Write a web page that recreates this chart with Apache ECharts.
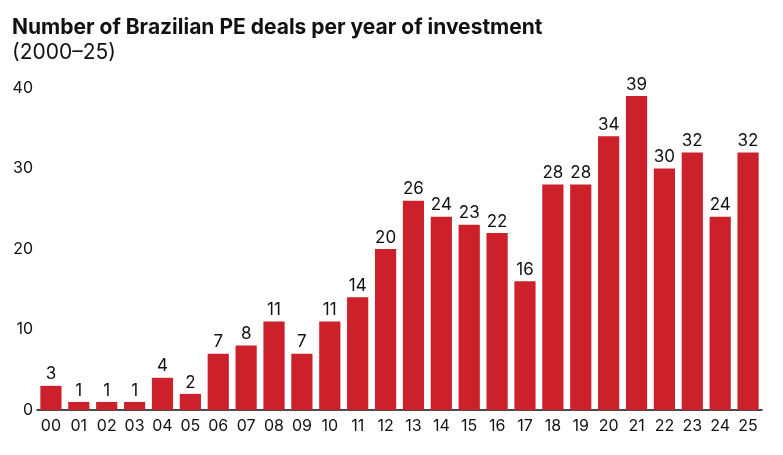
<!DOCTYPE html>
<html>
<head>
<meta charset="utf-8">
<script src="https://cdn.jsdelivr.net/npm/echarts@6/dist/echarts.min.js"></script>
<style>
html,body{margin:0;padding:0;background:#fff;}
#chart{width:783px;height:455px;}
</style>
</head>
<body>
<div id="chart"></div>
<script>
// 年份标签与交易数量
var years = ['00','01','02','03','04','05','06','07','08','09','10','11','12','13','14','15','16','17','18','19','20','21','22','23','24','25'];
var deals = [3,1,1,1,4,2,7,8,11,7,11,14,20,26,24,23,22,16,28,28,34,39,30,32,24,32];
var yTicks = [0,10,20,30,40];

var myChart = echarts.init(document.getElementById('chart'));
var font = 'Inter, "Noto Sans", sans-serif';

var option = {
    animation: false,
    title: [
        {
            text: 'Number of Brazilian PE deals per year of investment',
            left: 7, top: 12,
            textStyle: { fontFamily: font, fontSize: 21, fontWeight: 'bold', color: '#111' }
        },
        {
            text: '(2000–25)',
            left: 7, top: 37,
            textStyle: { fontFamily: font, fontSize: 21, fontWeight: 'normal', color: '#111' }
        }
    ],
    grid: { left: 37, right: 21, top: 88, bottom: 45 },
    xAxis: {
        type: 'category',
        data: years,
        axisLine: { lineStyle: { color: '#111', width: 1.5 } },
        axisTick: { show: false },
        axisLabel: { fontFamily: font, fontSize: 16, color: '#111', margin: 8 }
    },
    yAxis: {
        type: 'value',
        min: yTicks[0],
        max: yTicks[yTicks.length - 1],
        interval: 10,
        splitLine: { show: false },
        axisLine: { show: false },
        axisTick: { show: false },
        axisLabel: { fontFamily: font, fontSize: 16, color: '#111', margin: 4 }
    },
    series: [
        {
            type: 'bar',
            data: deals,
            barCategoryGap: '24%',
            itemStyle: { color: '#cc202a' },
            label: {
                show: true,
                position: 'top',
                distance: 3,
                fontFamily: font,
                fontSize: 17,
                color: '#111'
            }
        }
    ]
};
myChart.setOption(option, true);
</script>
</body>
</html>
